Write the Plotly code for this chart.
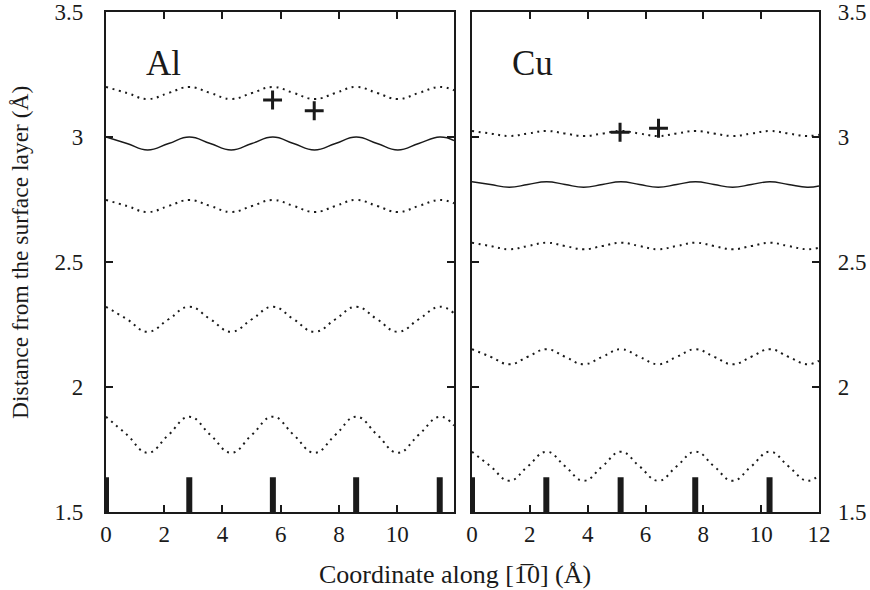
import plotly.graph_objects as go

# ---------------- data ----------------
al_x = [0, 0.72, 1.43, 2.15, 2.86, 3.58, 4.30, 5.01, 5.73, 6.44, 7.16, 7.88,
        8.59, 9.31, 10.02, 10.74, 11.46, 11.95]
al_top = [3.200, 3.176, 3.152, 3.176, 3.200, 3.176, 3.152, 3.176, 3.200, 3.176,
          3.152, 3.176, 3.200, 3.176, 3.152, 3.176, 3.200, 3.187]
al_solid = [3.000, 2.974, 2.948, 2.974, 3.000, 2.974, 2.948, 2.974, 3.000, 2.974,
            2.948, 2.974, 3.000, 2.974, 2.948, 2.974, 3.000, 2.986]
al_d3 = [2.748, 2.724, 2.700, 2.724, 2.748, 2.724, 2.700, 2.724, 2.748, 2.724,
         2.700, 2.724, 2.748, 2.724, 2.700, 2.724, 2.748, 2.735]
al_d4 = [2.321, 2.271, 2.221, 2.271, 2.321, 2.271, 2.221, 2.271, 2.321, 2.271,
         2.221, 2.271, 2.321, 2.271, 2.221, 2.271, 2.321, 2.295]
al_d5 = [1.881, 1.809, 1.737, 1.809, 1.881, 1.809, 1.737, 1.809, 1.881, 1.809,
         1.737, 1.809, 1.881, 1.809, 1.737, 1.809, 1.881, 1.846]
al_atoms = [0, 2.86, 5.73, 8.59, 11.46]
al_plus_x = [5.72, 7.15]
al_plus_y = [3.148, 3.105]

cu_x = [0, 0.64, 1.29, 1.93, 2.58, 3.22, 3.86, 4.51, 5.15, 5.79, 6.44, 7.08,
        7.73, 8.37, 9.01, 9.66, 10.30, 10.94, 11.59, 12.0]
cu_top = [3.024, 3.014, 3.004, 3.014, 3.024, 3.014, 3.004, 3.014, 3.024, 3.014,
          3.004, 3.014, 3.024, 3.014, 3.004, 3.014, 3.024, 3.014, 3.004, 3.009]
cu_solid = [2.821, 2.810, 2.799, 2.810, 2.821, 2.810, 2.799, 2.810, 2.821, 2.810,
            2.799, 2.810, 2.821, 2.810, 2.799, 2.810, 2.821, 2.810, 2.799, 2.804]
cu_d3 = [2.577, 2.564, 2.551, 2.564, 2.577, 2.564, 2.551, 2.564, 2.577, 2.564,
         2.551, 2.564, 2.577, 2.564, 2.551, 2.564, 2.577, 2.564, 2.551, 2.557]
cu_d4 = [2.151, 2.121, 2.091, 2.121, 2.151, 2.121, 2.091, 2.121, 2.151, 2.121,
         2.091, 2.121, 2.151, 2.121, 2.091, 2.121, 2.151, 2.121, 2.091, 2.105]
cu_d5 = [1.741, 1.683, 1.625, 1.683, 1.741, 1.683, 1.625, 1.683, 1.741, 1.683,
         1.625, 1.683, 1.741, 1.683, 1.625, 1.683, 1.741, 1.683, 1.625, 1.648]
cu_atoms = [0, 2.57, 5.14, 7.72, 10.29]
cu_plus_x = [5.12, 6.45]
cu_plus_y = [3.019, 3.035]

atom_base = 1.5
atom_top = 1.639

y_ticks = [1.5, 2, 2.5, 3, 3.5]
y_ticktext = ["1.5", "2", "2.5", "3", "3.5"]
al_xticks = [0, 2, 4, 6, 8, 10]
cu_xticks = [0, 2, 4, 6, 8, 10, 12]

# ---------------- figure ----------------
FONT = "Liberation Serif"
INK = "#1a1a1a"
DOT = dict(color=INK, width=2, dash="2px,4.6px", shape="spline", smoothing=1.3)
SOLID = dict(color=INK, width=1.4, shape="spline", smoothing=1.3)

fig = go.Figure()

def add_panel(xs, series, atoms, px, py, xa, ya):
    styles = [DOT, SOLID, DOT, DOT, DOT]
    for ys, st in zip(series, styles):
        fig.add_trace(go.Scatter(x=xs, y=ys, mode="lines", line=st,
                                 xaxis=xa, yaxis=ya, hoverinfo="skip"))
    bx, by = [], []
    for a in atoms:
        bx += [a, a, None]
        by += [atom_base, atom_top, None]
    fig.add_trace(go.Scatter(x=bx, y=by, mode="lines",
                             line=dict(color=INK, width=6),
                             xaxis=xa, yaxis=ya, hoverinfo="skip"))
    fig.add_trace(go.Scatter(x=px, y=py, mode="markers",
                             marker=dict(symbol="cross-thin", size=13.5,
                                         line=dict(color=INK, width=3)),
                             xaxis=xa, yaxis=ya, hoverinfo="skip"))

add_panel(al_x, [al_top, al_solid, al_d3, al_d4, al_d5], al_atoms,
          al_plus_x, al_plus_y, "x", "y")
add_panel(cu_x, [cu_top, cu_solid, cu_d3, cu_d4, cu_d5], cu_atoms,
          cu_plus_x, cu_plus_y, "x2", "y2")

W, H = 870, 590
L, T = 106, 12
pw, ph = 713, 500
R = W - L - pw
B = H - T - ph

def px2paper_x(px):
    return (px - L) / pw

def px2paper_y(py):
    return (T + ph - py) / ph

axis_common = dict(showline=True, linecolor=INK, linewidth=2.2, mirror="ticks",
                   ticks="inside", ticklen=7, tickwidth=2, tickcolor=INK,
                   showgrid=False, zeroline=False, automargin=False,
                   ticklabeloverflow="allow",
                   tickfont=dict(family=FONT, size=23, color=INK))

fig.update_layout(
    width=W, height=H, showlegend=False,
    paper_bgcolor="white", plot_bgcolor="white",
    font=dict(family=FONT, color=INK),
    margin=dict(l=L, r=R, t=T, b=B, autoexpand=False),
    xaxis=dict(domain=[0, 348 / pw], range=[0, 11.95], tickvals=al_xticks,
               anchor="y", **axis_common),
    xaxis2=dict(domain=[366 / pw, 1], range=[0, 12], tickvals=cu_xticks,
                anchor="y2", **axis_common),
    yaxis=dict(range=[1.5, 3.5], tickvals=y_ticks, ticktext=y_ticktext,
               anchor="x", side="left", ticklabelstandoff=16, **axis_common),
    yaxis2=dict(range=[1.5, 3.5], tickvals=y_ticks, ticktext=y_ticktext,
                anchor="x2", side="right", ticklabelstandoff=12, **axis_common),
    annotations=[
        dict(text="Al", x=1.97, y=3.296, xref="x", yref="y", showarrow=False,
             xanchor="center", yanchor="middle",
             font=dict(family=FONT, size=35, color=INK)),
        dict(text="Cu", x=2.08, y=3.296, xref="x2", yref="y2", showarrow=False,
             xanchor="center", yanchor="middle",
             font=dict(family=FONT, size=35, color=INK)),
        dict(text="Coordinate along [1\u03050] (Å)", x=px2paper_x(455),
             y=px2paper_y(574), xref="paper", yref="paper", showarrow=False,
             xanchor="center", yanchor="middle",
             font=dict(family=FONT, size=26, color=INK)),
        dict(text="Distance from the surface layer (Å)", x=px2paper_x(20),
             y=px2paper_y(253), xref="paper", yref="paper", showarrow=False,
             xanchor="center", yanchor="middle",
             textangle=-90, font=dict(family=FONT, size=23.5, color=INK)),
    ],
)

# remove the default 8px page margin so the 870x590 canvas fills the window
fig.write_html(
    "out.html",
    config={"displayModeBar": False},
    post_script="document.body.style.margin='0';"
                "document.body.style.overflow='hidden';",
)
